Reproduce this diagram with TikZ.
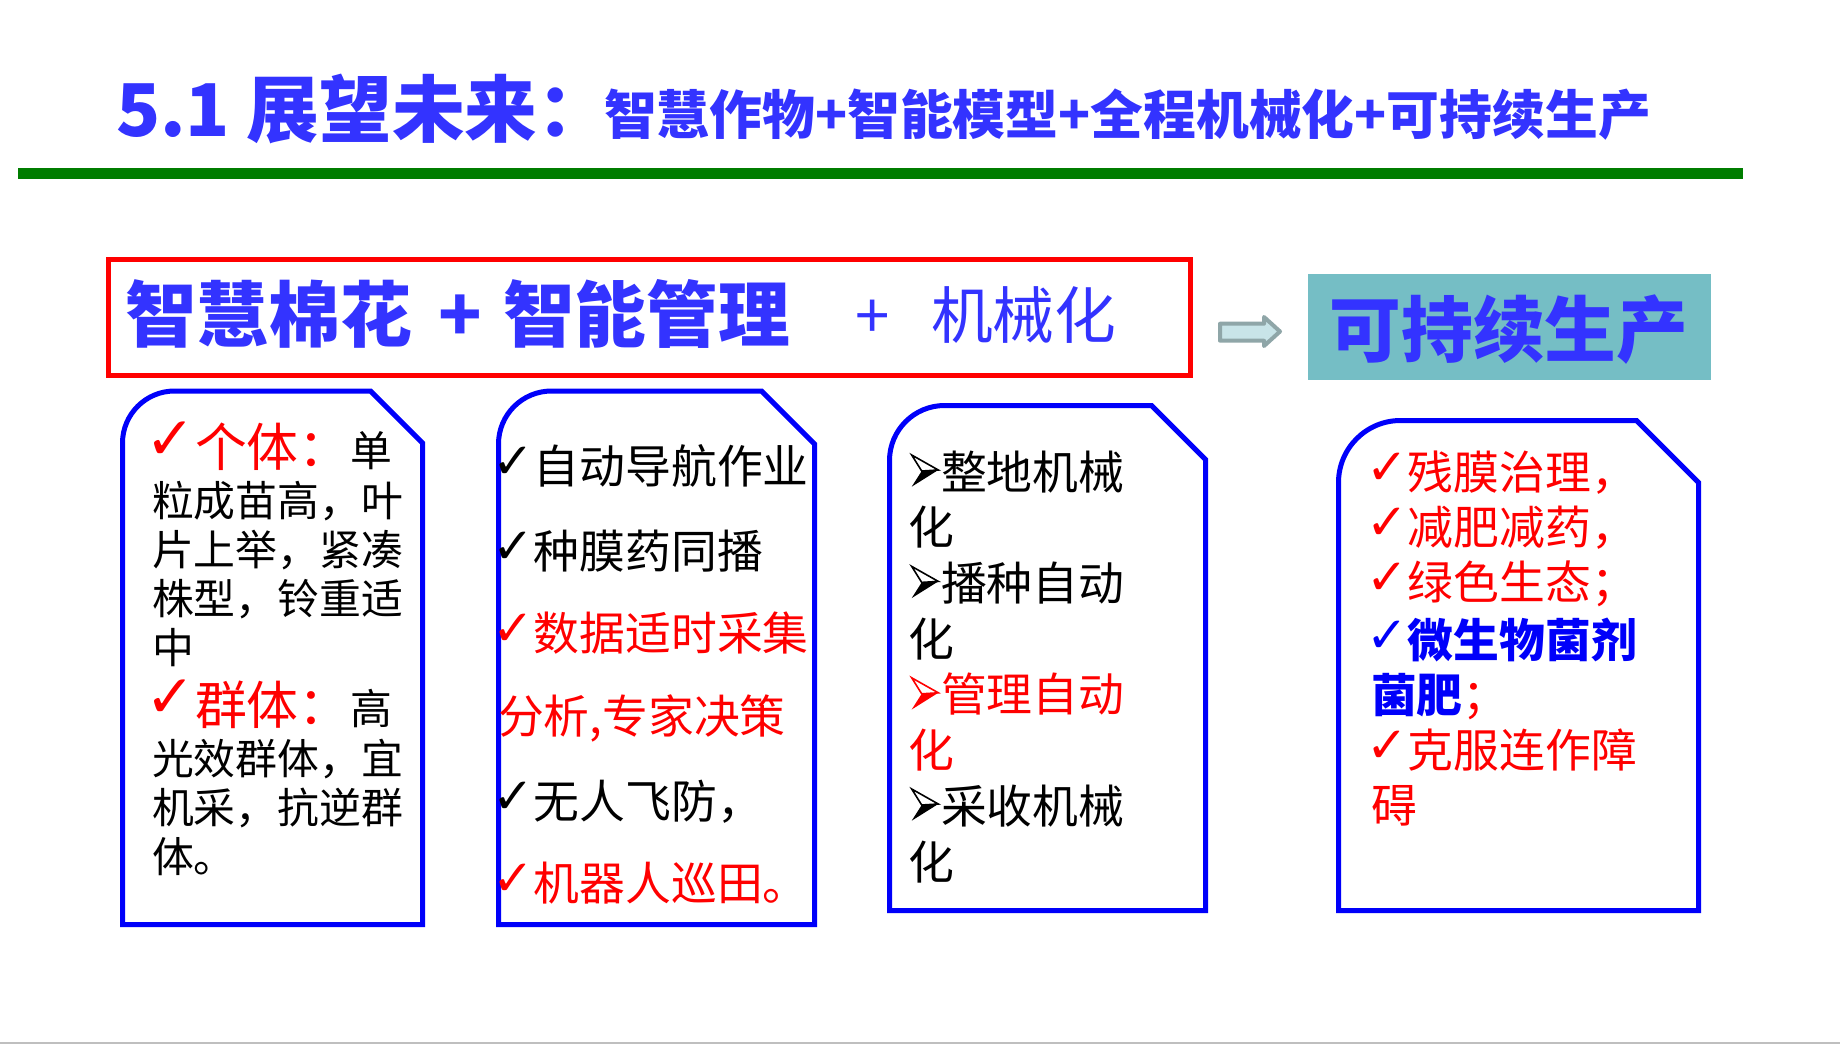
\documentclass[tikz,border=0pt]{standalone}
\usepackage{fontspec}
\setmainfont{Noto Sans CJK SC}
\newfontfamily\symfont{DejaVu Sans}
\definecolor{titleblue}{RGB}{51,51,255}
\definecolor{boxblue}{RGB}{0,0,250}
\definecolor{linegreen}{RGB}{0,125,0}
\definecolor{tealbox}{RGB}{117,190,197}
\definecolor{arrowfill}{RGB}{200,228,232}
\definecolor{arrowline}{RGB}{143,166,168}
\definecolor{myred}{RGB}{255,0,0}
% check mark: #1 glyph size, #2 raise
\newcommand\myck[2]{\raisebox{#2bp}{\symfont\fontsize{#1}{#1}\selectfont ✓}}
\newcommand\ckm{\myck{50}{5}}
\newcommand\ckl{\myck{60}{7}}
\newcommand\fs[1]{\fontsize{#1}{#1}\selectfont}
\newcommand\snipbox[6]{\draw[boxline] (#1,#4) -- ({#1},{#2+#5}) .. controls ({#1},{#2+0.448*#5}) and ({#1+0.448*#5},{#2}) .. ({#1+#5},{#2}) -- ({#3-#6},{#2}) -- ({#3},{#2+#6}) -- (#3,#4) -- cycle;}
\tikzset{
  txt/.style={anchor=base west, inner sep=0pt, outer sep=0pt},
  boxline/.style={draw=boxblue, line width=5bp, line join=miter},
  pics/arrowhead/.style={code={
    \draw[draw=#1, fill=white, line width=1.6bp, line join=miter] (0,-34) -- (26.6,-19) -- (10,-18) -- cycle;
    \fill[#1] (10,-18) -- (26.6,-19) -- (0,-2.3) -- cycle;
  }},
}
\begin{document}
\begin{tikzpicture}[x=1bp,y=-1bp]
\useasboundingbox (0,0) rectangle (1840,1044);
\fill[white] (0,0) rectangle (1840,1044);
\fill[black!25] (0,1041.5) rectangle (1840,1044);
% title
\node[txt, text=titleblue, font=\fs{73}\bfseries] (title) at (116,136) {5.1 展望未来：};
\node[txt, text=titleblue, font=\fs{53}\bfseries] (subtitle) at (604,134) {智慧作物+智能模型+全程机械化+可持续生产};
\fill[linegreen] (18,168) rectangle (1743,179);
% red box
\draw[myred, line width=5bp] (108.5,259.5) rectangle (1190.5,375.5);
\node[txt, text=titleblue, font=\fs{72}\bfseries] (h1) at (125,341) {智慧棉花};
\node[txt, text=titleblue, font=\fs{72}\bfseries] (hp1) at (438,341) {+};
\node[txt, text=titleblue, font=\fs{72}\bfseries] (h2) at (503,341) {智能管理};
\node[txt, text=titleblue, font=\fs{62}] (hp2) at (855,338) {+};
\node[txt, text=titleblue, font=\fs{62}] (h3) at (931,338) {机械化};
% arrow
\draw[fill=arrowfill, draw=arrowline, line width=4bp, line join=round] (1220,323.7) -- (1264,323.7) -- (1264,317) -- (1280,331.5) -- (1264,346) -- (1264,340.7) -- (1220,340.7) -- cycle;
% goal box
\node[fill=tealbox, minimum width=403bp, minimum height=106bp, inner sep=0pt, anchor=north west] (goal) at (1308,274) {};
\node[anchor=base, inner sep=0pt, text=titleblue, font=\fs{72}\bfseries] (goaltext) at (1509,356) {可持续生产};
% boxes
\snipbox{122.5}{391}{422.5}{924.5}{52}{52}
\snipbox{498.5}{391}{814.5}{924.5}{53}{53}
\snipbox{889.5}{405.5}{1205.5}{910.5}{55}{54}
\snipbox{1338.5}{420.5}{1698.5}{910.5}{62}{62}
% box 1 text
\begin{scope}[every node/.style={txt, font=\fs{42}}]
\node (a1) at (145,466) {\textcolor{myred}{\ckl\fs{52}个体：}单};
\node (a2) at (152,516) {粒成苗高，叶};
\node (a3) at (152,565) {片上举，紧凑};
\node (a4) at (152,614) {株型，铃重适};
\node (a5) at (152,663) {中};
\node (a6) at (145,724) {\textcolor{myred}{\ckl\fs{52}群体：}高};
\node (a7) at (152,774) {光效群体，宜};
\node (a8) at (152,823) {机采，抗逆群};
\node (a9) at (152,872) {体。};
\end{scope}
% box 2 text
\begin{scope}[every node/.style={txt, font=\fs{46}}]
\node (b1) at (492,483) {\ckm 自动导航作业};
\node (b2) at (492,568) {\ckm 种膜药同播};
\node[text=myred] (b3) at (492,650) {\ckm 数据适时采集};
\node[text=myred] (b4) at (498,733) {分析,专家决策};
\node (b5) at (492,818) {\ckm 无人飞防，};
\node[text=myred] (b6) at (492,900) {\ckm 机器人巡田。};
\end{scope}
% box 3 text
\pic at (911.7,489) {arrowhead=black};
\pic at (911.7,600.4) {arrowhead=black};
\pic at (911.7,711.8) {arrowhead=myred};
\pic at (911.7,823) {arrowhead=black};
\begin{scope}[every node/.style={txt, font=\fs{46}}]
\node (c1) at (941,489) {整地机械};
\node (c2) at (908,544.7) {化};
\node (c3) at (941,600.4) {播种自动};
\node (c4) at (908,656) {化};
\node[text=myred] (c5) at (941,711.8) {管理自动};
\node[text=myred] (c6) at (908,767.5) {化};
\node (c7) at (941,823) {采收机械};
\node (c8) at (908,879) {化};
\end{scope}
% box 4 text
\begin{scope}[every node/.style={txt, font=\fs{46}}]
\node[text=myred] (d1) at (1366,489) {\ckm 残膜治理，};
\node[text=myred] (d2) at (1366,544) {\ckm 减肥减药，};
\node[text=myred] (d3) at (1366,599) {\ckm 绿色生态；};
\node[text=boxblue] (d4) at (1366,657) {\ckm\bfseries 微生物菌剂};
\node (d5) at (1371,712) {\textcolor{boxblue}{\bfseries 菌肥}\textcolor{myred}{；}};
\node[text=myred] (d6) at (1366,767) {\ckm 克服连作障};
\node[text=myred] (d7) at (1371,822) {碍};
\end{scope}
\end{tikzpicture}
\end{document}
